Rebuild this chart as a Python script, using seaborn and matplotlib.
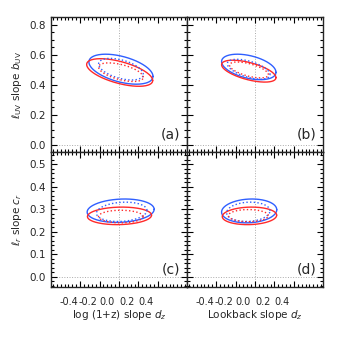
import numpy as np
import pandas as pd
import matplotlib
matplotlib.use('Agg')
import matplotlib.pyplot as plt
import matplotlib.transforms as mtransforms
import seaborn as sns

# confidence ellipses per panel (a, b, c, d): (centre x, centre y, sigma x, sigma y, correlation)
panel_names = ['(a)', '(b)', '(c)', '(d)']
blue_outer = [(0.02, 0.505, 0.33, 0.100, -0.48), (-0.064, 0.52, 0.28, 0.085, -0.42),
              (0.017, 0.294, 0.345, 0.052, 0.12), (-0.060, 0.293, 0.284, 0.053, 0.10)]
red_outer = [(0.007, 0.483, 0.34, 0.092, -0.58), (-0.064, 0.492, 0.28, 0.073, -0.59),
             (0.005, 0.271, 0.33, 0.039, 0.08), (-0.057, 0.271, 0.28, 0.039, 0.08)]
blue_inner = [(0.02, 0.505, 0.23, 0.072, -0.48), (-0.065, 0.505, 0.22, 0.066, -0.55),
              (0.028, 0.289, 0.26, 0.043, 0.15), (-0.069, 0.289, 0.223, 0.043, 0.10)]
red_inner = [(0.02, 0.485, 0.23, 0.062, -0.55), (-0.062, 0.50, 0.20, 0.053, -0.60),
             (0.019, 0.268, 0.23, 0.028, 0.0), (-0.069, 0.272, 0.206, 0.027, 0.0)]

x_ticks = [-0.4, -0.2, 0.0, 0.2, 0.4]
top_yticks = [0.0, 0.2, 0.4, 0.6, 0.8]
bottom_yticks = [0.0, 0.1, 0.2, 0.3, 0.4, 0.5]
x_labels = ['log (1+z) slope $d_z$', 'Lookback slope $d_z$']
y_labels = [r'$\ell_{\rm UV}$ slope $b_{\rm UV}$', r'$\ell_r$ slope $c_r$']

blue = '#2f5fff'
red = '#ff2a2a'

sns.set_style('ticks')
plt.rcParams['font.family'] = ['DejaVu Sans']
plt.rcParams['axes.unicode_minus'] = False


def ellipse_frame(p):
    cx, cy, sx, sy, rho = p
    t = np.linspace(0, 2 * np.pi, 200)
    return pd.DataFrame({'x': cx + sx * np.cos(t),
                         'y': cy + sy * (rho * np.cos(t) + np.sqrt(1 - rho ** 2) * np.sin(t))})


fig, axes = plt.subplots(2, 2, figsize=(3.4, 3.4), dpi=100)
plt.subplots_adjust(left=0.15, right=0.95, top=0.95, bottom=0.156, wspace=0, hspace=0)

for i, ax in enumerate(axes.flat):
    row, col = divmod(i, 2)
    ax.axvline(0, color='#aaaaaa', lw=0.7, ls=':', zorder=0)
    ax.axhline(0, color='#aaaaaa', lw=0.7, ls=':', zorder=0)
    for params, colour, style in [(blue_outer, blue, '-'), (red_outer, red, '-'),
                                  (blue_inner, blue, ':'), (red_inner, red, ':')]:
        sns.lineplot(data=ellipse_frame(params[i]), x='x', y='y', sort=False, estimator=None,
                     color=colour, lw=1.0, ls=style, ax=ax)
    ax.set_xlim(-0.7, 0.7)
    ax.set_xticks(x_ticks)
    ax.xaxis.set_minor_locator(matplotlib.ticker.MultipleLocator(0.04))
    if row == 0:
        ax.set_ylim(-0.047, 0.853)
        ax.set_yticks(top_yticks)
        ax.yaxis.set_minor_locator(matplotlib.ticker.MultipleLocator(0.05))
    else:
        ax.set_ylim(-0.045, 0.555)
        ax.set_yticks(bottom_yticks)
        ax.yaxis.set_minor_locator(matplotlib.ticker.MultipleLocator(0.02))
    ax.tick_params(which='both', direction='in', top=True, right=True, labelsize=7.5,
                   width=0.8, color='black')
    ax.tick_params(axis='x', labelsize=7)
    ax.tick_params(which='major', length=4)
    ax.tick_params(which='minor', length=2)
    ax.tick_params(axis='x', pad=7)
    ax.tick_params(axis='y', pad=3.5)
    for s in ax.spines.values():
        s.set_linewidth(1.0)
    ax.set_xlabel('')
    ax.set_ylabel('')
    if row == 1:
        ax.set_xlabel(x_labels[col], fontsize=7.5, labelpad=1)
        offset = mtransforms.ScaledTranslation(-0.115, 0, fig.dpi_scale_trans)
        for lab in ax.get_xticklabels():
            lab.set_transform(lab.get_transform() + offset)
    else:
        ax.set_xticklabels([])
    if col == 0:
        ax.set_ylabel(y_labels[row], fontsize=7.5)
    else:
        ax.set_yticklabels([])
    ax.text(0.95, 0.08, panel_names[i], transform=ax.transAxes, ha='right', va='bottom',
            fontsize=10)

fig.savefig('out.png', dpi=100, facecolor='white')
